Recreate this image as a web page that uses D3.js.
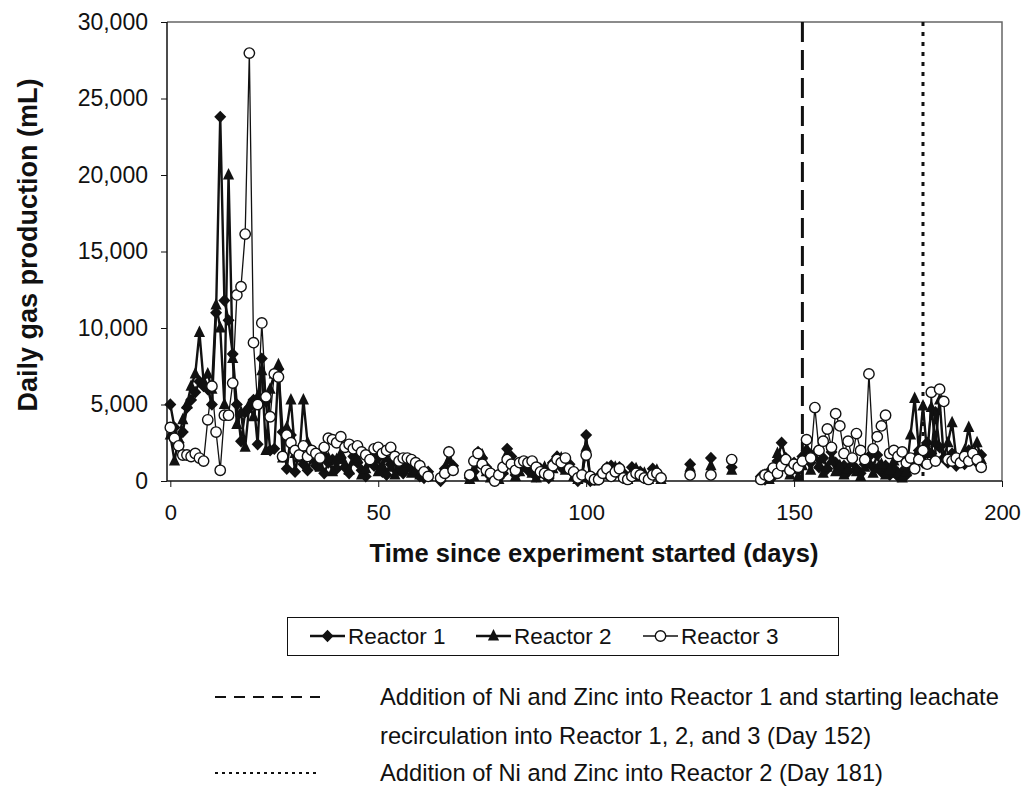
<!DOCTYPE html>
<html>
<head>
<meta charset="utf-8">
<script src="https://cdn.jsdelivr.net/npm/d3@7"></script>
<style>
  body { margin: 0; background: #fff; }
  text { font-family: Arial, "Liberation Sans", sans-serif; fill: #111; }
</style>
</head>
<body>
<svg id="chart" width="1025" height="809"></svg>
<script>
// Daily gas production per reactor, index = day since start (null = no reading)
const reactor1 = [
  5000, 3500, 2500, 3200, 4800, 5300, 5800, 6500, 6200, 6000,
  5000, 11000, 23800, 11800, 10500, 8300, 5000, 2600, 4500, 4800,
  5300, 2400, 8000, 5200, 2000, 2100, 7300, 3200, 800, 3000,
  600, 2000, 1100, 700, 1500, 1000, 1600, 500, 1200, 1400,
  800, 1500, 900, 500, 1600, 1200, 700, 300, 1300, 1000,
  1500, 600, 400, 1100, 1300, 700, 500, 900, 1100, 600,
  300, 200, 600, null, null, 0, 800, 1900, 1000, null,
  null, null, 200, 600, 1900, 1500, 900, 300, 100, 200,
  500, 2100, 1600, 400, 900, 1200, 700, 1000, 300, 800,
  400, 200, 1200, 1600, 900, 1400, 1100, 500, 0, 300,
  3000, 0, 100, 300, 600, 900, 1000, 700, 900, 500,
  200, 900, 700, 600, 300, 200, 800, 500, 200, null,
  null, null, null, null, null, 1100, null, null, null, null,
  1500, null, null, null, null, 900, null, null, null, null,
  null, null, 300, 100, 600, 300, 1300, 2500, 1500, 800,
  1200, 700, 1600, 2000, 1200, 1800, 900, 1500, 800, 1900,
  1200, 700, 1000, 600, 1400, 800, 500, 1100, 1600, 900,
  1700, 600, 1000, 400, 800, 300, 600, 400, 900, 1500,
  2000, 1200, 2500, 1800, 4500, 2200, 1500, 1200, 1800, 1000,
  1400, 1100, 2000, 1500, 1200, 1700
];
const reactor2 = [
  3000, 1300, 2800, 4000, 5000, 6200, 7000, 9700, 6500, 7000,
  6000, 11500, 10000, 5000, 20000, 8000, 3700, 4500, 2200, 5000,
  4200, 5500, 7200, 2000, 6000, 7000, 7600, 1500, 3500, 5300,
  1800, 1500, 5300, 2500, 1800, 1200, 900, 1800, 1500, 600,
  1400, 1800, 1100, 700, 1300, 1500, 400, 800, 1200, 1700,
  600, 1000, 1500, 900, 400, 1100, 800, 1200, 500, 700,
  400, 400, 300, null, null, 300, 600, 1400, 900, null,
  null, null, 100, 300, 1200, 1700, 600, 200, 300, 100,
  700, 1800, 1200, 300, 600, 900, 1100, 500, 200, 700,
  900, 300, 800, 1300, 1500, 700, 900, 300, 100, 200,
  2200, 200, 0, 200, 400, 700, 600, 900, 500, 300,
  100, 600, 800, 300, 500, 100, 600, 700, 100, null,
  null, null, null, null, null, 900, null, null, null, null,
  1000, null, null, null, null, 700, null, null, null, null,
  null, null, 200, 400, 100, 500, 1800, 900, 1200, 400,
  800, 300, 1000, 1400, 700, 1600, 1100, 500, 900, 1300,
  600, 1000, 400, 800, 1200, 600, 300, 900, 1200, 500,
  800, 1100, 400, 700, 1300, 500, 200, 600, 3000, 5400,
  2000, 4900, 1800, 4800, 2500, 5300, 1500, 2500, 3800, 1500,
  1200, 2000, 3500, 1800, 2500, 1400
];
const reactor3 = [
  3500, 2800, 2300, 1700, 1700, 1600, 1800, 1500, 1300, 4000,
  6200, 3200, 700, 4300, 4300, 6400, 12160, 12700, 16140, 27970,
  9040, 5000, 10330, 5500, 4200, 7000, 6800, 1600, 3000, 2500,
  2000, 1700, 2300, 1600, 2000, 1800, 1500, 2200, 2800, 2700,
  2500, 2900, 2200, 2400, 2100, 2300, 1900, 1700, 1400, 2100,
  2200, 1800, 2000, 2200, 1600, 1300, 1500, 1500, 1400, 1200,
  1000, 600, 300, null, null, 200, 500, 1900, 700, null,
  null, null, 400, 1300, 1800, 1100, 700, 500, 0, 400,
  900, 1400, 1100, 700, 1200, 1300, 1200, 1300, 900, 600,
  500, 400, 1000, 1400, 1200, 1500, 800, 600, 200, 400,
  1700, 300, 100, 100, 500, 800, 300, 600, 800, 200,
  100, 300, 500, 400, 200, 100, 400, 500, 200, null,
  null, null, null, null, null, 400, null, null, null, null,
  400, null, null, null, null, 1400, null, null, null, null,
  null, null, 100, 400, 300, 850, 500, 1000, 1400, 700,
  1100, 900, 1300, 2700, 1500, 4800, 2000, 2600, 3400, 2200,
  4400, 3600, 1800, 2600, 1500, 3100, 2000, 1400, 7000, 2100,
  2900, 3600, 4300, 1800, 2000, 1600, 1900, 1200, 1500, 800,
  1400, 2000, 1100, 5800, 1300, 6000, 5200, 1400, 1300, 1500,
  1200, 1600, 1300, 1800, 1400, 900
];

const seriesNames = ['Reactor 1', 'Reactor 2', 'Reactor 3'];
const xTicks = [0, 50, 100, 150, 200];
const yTicks = [0, 5000, 10000, 15000, 20000, 25000, 30000];
const events = [
  {day: 152, label: ['Addition of Ni and Zinc into Reactor 1 and starting leachate',
                     'recirculation into Reactor 1, 2, and 3 (Day 152)']},
  {day: 181, label: ['Addition of Ni and Zinc into Reactor 2 (Day 181)']}
];

// ---- Layout ----
const svg = d3.select('#chart');
const plot = {left: 167, right: 1002, top: 22, bottom: 481};

const x = d3.scaleLinear().domain([-0.8, 200]).range([plot.left, plot.right]);
const y = d3.scaleLinear().domain([0, 30000]).range([plot.bottom, plot.top]);

const styles = [
  {symbol: 'diamond', width: 2.4},
  {symbol: 'triangle', width: 2.4},
  {symbol: 'circle', width: 1.3}
];
const eventDash = ['20,8', '4,6'];

// ---- Frame ----
svg.append('path')
  .attr('d', `M${plot.left},${plot.top}H${plot.right}V${plot.bottom}`)
  .attr('fill', 'none').attr('stroke', '#666').attr('stroke-width', 1.5);

// ---- Event lines ----
svg.selectAll('line.event')
  .data(events)
  .join('line')
  .attr('class', 'event')
  .attr('x1', d => x(d.day)).attr('x2', d => x(d.day))
  .attr('y1', plot.top).attr('y2', plot.bottom)
  .attr('stroke', '#111').attr('stroke-width', 3)
  .attr('stroke-dasharray', (d, i) => eventDash[i]);

// ---- Axes ----
const yAxis = svg.append('g')
  .attr('transform', `translate(${plot.left},0)`)
  .call(d3.axisLeft(y).tickValues(yTicks).tickSize(6).tickPadding(13).tickFormat(d3.format(',')));
const xAxis = svg.append('g')
  .attr('transform', `translate(0,${plot.bottom})`)
  .call(d3.axisBottom(x).tickValues(xTicks).tickSize(6).tickPadding(17));
[xAxis, yAxis].forEach(a => {
  a.select('.domain').attr('stroke', '#111').attr('stroke-width', 1.5);
  a.selectAll('.tick line').attr('stroke', '#111');
  a.selectAll('text').attr('font-family', 'Arial, "Liberation Sans", sans-serif').attr('fill', '#111');
});
yAxis.selectAll('text').attr('font-size', 23);
xAxis.selectAll('text').attr('font-size', 22);
xAxis.select('.domain').attr('d', `M${plot.left},0H${plot.right}`);
yAxis.select('.domain').attr('d', `M0,${plot.top}V${plot.bottom}`);

svg.append('text')
  .attr('x', 594).attr('y', 562)
  .attr('text-anchor', 'middle')
  .attr('font-size', 25.5).attr('font-weight', 'bold')
  .text('Time since experiment started (days)');
svg.append('text')
  .attr('transform', 'translate(37,245) rotate(-90)')
  .attr('text-anchor', 'middle')
  .attr('font-size', 27).attr('font-weight', 'bold')
  .text('Daily gas production (mL)');

// ---- Markers ----
function drawMarker(g, kind, cx, cy) {
  if (kind === 'diamond') {
    g.append('path')
      .attr('d', `M${cx},${cy - 6.2}L${cx + 6},${cy}L${cx},${cy + 6.2}L${cx - 6},${cy}Z`)
      .attr('fill', '#111');
  } else if (kind === 'triangle') {
    g.append('path')
      .attr('d', `M${cx},${cy - 7}L${cx + 5.6},${cy + 4.5}L${cx - 5.6},${cy + 4.5}Z`)
      .attr('fill', '#111');
  } else {
    g.append('circle')
      .attr('cx', cx).attr('cy', cy).attr('r', 5.2)
      .attr('fill', '#fff').attr('stroke', '#111').attr('stroke-width', 1.4);
  }
}

// ---- Series ----
const line = d3.line()
  .defined(d => d.value !== null)
  .x(d => x(d.day))
  .y(d => y(d.value));

[reactor1, reactor2, reactor3].forEach((values, i) => {
  const pts = values.map((v, day) => ({day, value: v}));
  const g = svg.append('g').attr('class', 'series');
  g.append('path')
    .datum(pts)
    .attr('d', line)
    .attr('fill', 'none')
    .attr('stroke', '#111')
    .attr('stroke-width', styles[i].width)
    .attr('stroke-linejoin', 'round');
  pts.filter(d => d.value !== null).forEach(d => drawMarker(g, styles[i].symbol, x(d.day), y(d.value)));
});

// ---- Legend ----
const legend = svg.append('g');
legend.append('rect')
  .attr('x', 287.5).attr('y', 617.5).attr('width', 551).attr('height', 38)
  .attr('fill', '#fff').attr('stroke', '#111').attr('stroke-width', 1);
const legendX = [310, 476, 643];
seriesNames.forEach((name, i) => {
  const lx = legendX[i];
  legend.append('line')
    .attr('x1', lx).attr('x2', lx + 35).attr('y1', 636).attr('y2', 636)
    .attr('stroke', '#111').attr('stroke-width', styles[i].width);
  drawMarker(legend, styles[i].symbol, lx + 17.5, 636);
  legend.append('text')
    .attr('x', lx + 38).attr('y', 644)
    .attr('font-size', 22.5)
    .text(name);
});

// ---- Event notes ----
const notes = svg.append('g');
const noteY = [697, 773];
events.forEach((ev, i) => {
  notes.append('line')
    .attr('x1', 215).attr('x2', 320).attr('y1', noteY[i]).attr('y2', noteY[i])
    .attr('stroke', '#111').attr('stroke-width', 2.2)
    .attr('stroke-dasharray', i === 0 ? '11,8' : '3,4');
  ev.label.forEach((t, j) => {
    notes.append('text')
      .attr('x', 380).attr('y', noteY[i] + 8 + j * 39)
      .attr('font-size', 23.7)
      .text(t);
  });
});
</script>
</body>
</html>
